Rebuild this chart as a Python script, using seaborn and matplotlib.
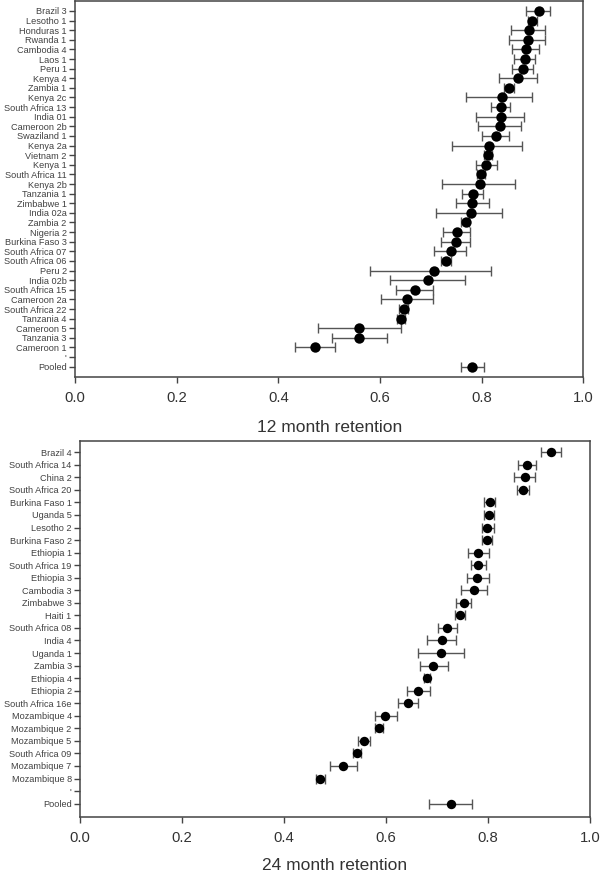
import numpy as np
import matplotlib
matplotlib.use("Agg")
import matplotlib.pyplot as plt
import seaborn as sns

nan = np.nan

# 12 month retention
labels_12 = ["Brazil 3", "Lesotho 1", "Honduras 1", "Rwanda 1", "Cambodia 4", "Laos 1", "Peru 1",
             "Kenya 4", "Zambia 1", "Kenya 2c", "South Africa 13", "India 01", "Cameroon 2b",
             "Swaziland 1", "Kenya 2a", "Vietnam 2", "Kenya 1", "South Africa 11", "Kenya 2b",
             "Tanzania 1", "Zimbabwe 1", "India 02a", "Zambia 2", "Nigeria 2", "Burkina Faso 3",
             "South Africa 07", "South Africa 06", "Peru 2", "India 02b", "South Africa 15",
             "Cameroon 2a", "South Africa 22", "Tanzania 4", "Cameroon 5", "Tanzania 3",
             "Cameroon 1", "'", "Pooled"]
ret_12 = [0.912, 0.900, 0.893, 0.891, 0.887, 0.885, 0.881, 0.872, 0.854, 0.840, 0.839, 0.839,
          0.837, 0.828, 0.814, 0.812, 0.809, 0.798, 0.797, 0.784, 0.782, 0.779, 0.769, 0.752,
          0.750, 0.739, 0.729, 0.706, 0.695, 0.669, 0.654, 0.647, 0.642, 0.559, 0.559, 0.472,
          nan, 0.782]
lo_12 = [0.887, 0.892, 0.857, 0.854, 0.860, 0.864, 0.860, 0.835, 0.845, 0.769, 0.818, 0.788,
         0.793, 0.801, 0.741, 0.805, 0.789, 0.790, 0.722, 0.762, 0.749, 0.710, 0.760, 0.724,
         0.720, 0.707, 0.720, 0.580, 0.619, 0.631, 0.603, 0.638, 0.634, 0.478, 0.505, 0.433,
         nan, 0.760]
hi_12 = [0.935, 0.909, 0.924, 0.924, 0.913, 0.906, 0.902, 0.909, 0.864, 0.900, 0.856, 0.883,
         0.877, 0.854, 0.879, 0.820, 0.831, 0.806, 0.865, 0.803, 0.815, 0.841, 0.776, 0.778,
         0.778, 0.770, 0.739, 0.818, 0.767, 0.705, 0.705, 0.656, 0.650, 0.641, 0.614, 0.512,
         nan, 0.804]

# 24 month retention
labels_24 = ["Brazil 4", "South Africa 14", "China 2", "South Africa 20", "Burkina Faso 1",
             "Uganda 5", "Lesotho 2", "Burkina Faso 2", "Ethiopia 1", "South Africa 19",
             "Ethiopia 3", "Cambodia 3", "Zimbabwe 3", "Haiti 1", "South Africa 08", "India 4",
             "Uganda 1", "Zambia 3", "Ethiopia 4", "Ethiopia 2", "South Africa 16e",
             "Mozambique 4", "Mozambique 2", "Mozambique 5", "South Africa 09", "Mozambique 7",
             "Mozambique 8", "'", "Pooled"]
ret_24 = [0.924, 0.876, 0.873, 0.868, 0.803, 0.802, 0.799, 0.798, 0.780, 0.780, 0.779, 0.773,
          0.752, 0.745, 0.720, 0.709, 0.708, 0.693, 0.680, 0.663, 0.643, 0.599, 0.587, 0.557,
          0.543, 0.516, 0.470, nan, 0.727]
lo_24 = [0.903, 0.859, 0.851, 0.856, 0.793, 0.792, 0.788, 0.788, 0.760, 0.766, 0.758, 0.747,
         0.737, 0.735, 0.701, 0.681, 0.663, 0.667, 0.674, 0.641, 0.623, 0.578, 0.579, 0.546,
         0.535, 0.490, 0.462, nan, 0.685]
hi_24 = [0.943, 0.894, 0.893, 0.880, 0.814, 0.812, 0.812, 0.808, 0.801, 0.796, 0.801, 0.799,
         0.767, 0.755, 0.739, 0.737, 0.752, 0.721, 0.686, 0.686, 0.663, 0.621, 0.594, 0.569,
         0.551, 0.543, 0.481, nan, 0.769]

sns.set_style("ticks")
plt.rcParams['font.family'] = ['Liberation Sans', 'DejaVu Sans']

txt = '#333333'
edge = '#444444'


def forest(ax, labels, est, lo, hi, dot_size, top_pad):
    est = np.array(est)
    pos = np.arange(len(labels))
    xerr = [est - np.array(lo), np.array(hi) - est]
    ax.errorbar(est, pos, xerr=xerr, fmt='none', ecolor='#555555', elinewidth=1.0,
                capsize=3.7, capthick=1.0, zorder=2)
    sns.scatterplot(x=est, y=pos, ax=ax, color='black', s=dot_size, edgecolor='black',
                    linewidth=0, zorder=3, legend=False)
    ax.set_xlim(0, 1.0)
    ax.set_ylim(len(labels) - 1 + 1.04, -top_pad)
    ax.set_yticks(pos)
    ax.set_yticklabels(labels, fontsize=6.6, color='#404040')
    ax.set_xticks([0.0, 0.2, 0.4, 0.6, 0.8, 1.0])
    ax.set_xticklabels(['0.0', '0.2', '0.4', '0.6', '0.8', '1.0'], fontsize=10.7, color=txt)
    ax.tick_params(axis='y', length=4, width=1.0, color=edge, pad=2)
    ax.tick_params(axis='x', length=4, width=1.0, color=edge, pad=6)
    for sp in ax.spines.values():
        sp.set_color(edge)
        sp.set_linewidth(1.1)


fig = plt.figure(figsize=(6.01, 8.73), dpi=100)
ax1 = fig.add_axes([0.1248, 0.5685, 0.8457, 0.4304])
ax2 = fig.add_axes([0.1331, 0.0645, 0.8486, 0.4307])

forest(ax1, labels_12, ret_12, lo_12, hi_12, 56, 1.04)
forest(ax2, labels_24, ret_24, lo_24, hi_24, 46, 0.92)

ax1.set_xlabel('12 month retention', fontsize=12.5, color=txt, labelpad=11)
ax2.set_xlabel('24 month retention', fontsize=12.5, color=txt, labelpad=10)

fig.savefig('out.png', dpi=100)
